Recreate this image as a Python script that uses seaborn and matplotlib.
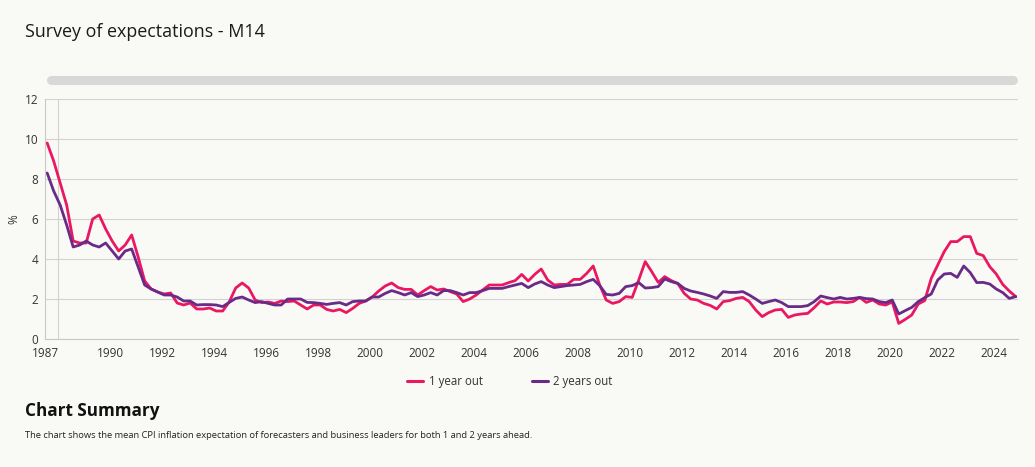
import matplotlib.pyplot as plt
import numpy as np
import pandas as pd
import seaborn as sns
from matplotlib.lines import Line2D

# Survey dates (quarterly, Aug 1987 - Nov 2024)
dates = pd.date_range("1987-08-01", periods=150, freq="3MS")

one_year_out = [
    9.8, 8.9,                  # 1987
    7.8, 6.7, 4.9, 4.8,        # 1988
    4.8, 6.0, 6.2, 5.5,        # 1989
    4.9, 4.4, 4.7, 5.2,        # 1990
    4.1, 2.9, 2.5, 2.35,       # 1991
    2.25, 2.3, 1.8, 1.7,       # 1992
    1.8, 1.5, 1.5, 1.55,       # 1993
    1.4, 1.4, 1.85, 2.55,      # 1994
    2.8, 2.55, 1.95, 1.82,     # 1995
    1.85, 1.78, 1.9, 1.87,     # 1996
    1.9, 1.7, 1.5, 1.7,        # 1997
    1.7, 1.48, 1.4, 1.48,      # 1998
    1.32, 1.53, 1.78, 1.9,     # 1999
    2.1, 2.4, 2.65, 2.8,       # 2000
    2.57, 2.48, 2.48, 2.2,     # 2001
    2.42, 2.62, 2.45, 2.5,     # 2002
    2.37, 2.25, 1.87, 2.0,     # 2003
    2.2, 2.45, 2.7, 2.7,       # 2004
    2.7, 2.82, 2.92, 3.23,     # 2005
    2.9, 3.23, 3.5, 2.95,      # 2006
    2.7, 2.73, 2.73, 2.98,     # 2007
    2.98, 3.28, 3.65, 2.7,     # 2008
    1.95, 1.78, 1.87, 2.12,    # 2009
    2.08, 2.95, 3.87, 3.37,    # 2010
    2.83, 3.12, 2.92, 2.78,    # 2011
    2.28, 2.0, 1.95, 1.78,     # 2012
    1.68, 1.5, 1.87, 1.92,     # 2013
    2.03, 2.08, 1.87, 1.45,    # 2014
    1.12, 1.32, 1.45, 1.48,    # 2015
    1.08, 1.2, 1.25, 1.28,     # 2016
    1.57, 1.9, 1.75, 1.85,     # 2017
    1.85, 1.82, 1.87, 2.08,    # 2018
    1.83, 1.95, 1.75, 1.7,     # 2019
    1.85, 0.78, 0.98, 1.2,     # 2020
    1.75, 1.92, 3.03, 3.7,     # 2021
    4.37, 4.87, 4.87, 5.12,    # 2022
    5.12, 4.28, 4.17, 3.62,    # 2023
    3.25, 2.73, 2.4, 2.12,     # 2024
]

two_years_out = [
    8.3, 7.4,                  # 1987
    6.7, 5.7, 4.6, 4.7,        # 1988
    4.9, 4.7, 4.6, 4.8,        # 1989
    4.4, 4.0, 4.4, 4.5,        # 1990
    3.6, 2.7, 2.5, 2.35,       # 1991
    2.2, 2.2, 2.1, 1.9,        # 1992
    1.9, 1.7, 1.72, 1.72,      # 1993
    1.7, 1.62, 1.83, 2.03,     # 1994
    2.1, 1.95, 1.82, 1.87,     # 1995
    1.78, 1.7, 1.7, 2.0,       # 1996
    2.0, 2.0, 1.83, 1.82,      # 1997
    1.78, 1.73, 1.78, 1.82,    # 1998
    1.7, 1.87, 1.9, 1.9,       # 1999
    2.1, 2.1, 2.28, 2.42,      # 2000
    2.32, 2.2, 2.32, 2.12,     # 2001
    2.2, 2.32, 2.2, 2.42,      # 2002
    2.42, 2.32, 2.2, 2.32,     # 2003
    2.32, 2.42, 2.53, 2.53,    # 2004
    2.53, 2.62, 2.7, 2.78,     # 2005
    2.57, 2.75, 2.87, 2.7,     # 2006
    2.57, 2.62, 2.67, 2.7,     # 2007
    2.73, 2.87, 2.98, 2.67,    # 2008
    2.23, 2.2, 2.28, 2.62,     # 2009
    2.67, 2.82, 2.55, 2.57,    # 2010
    2.62, 3.0, 2.87, 2.78,     # 2011
    2.53, 2.4, 2.33, 2.25,     # 2012
    2.15, 2.03, 2.37, 2.33,    # 2013
    2.33, 2.37, 2.2, 2.0,      # 2014
    1.78, 1.87, 1.95, 1.82,    # 2015
    1.62, 1.62, 1.62, 1.67,    # 2016
    1.87, 2.15, 2.07, 2.0,     # 2017
    2.08, 2.0, 2.03, 2.08,     # 2018
    2.02, 2.0, 1.87, 1.82,     # 2019
    1.95, 1.25, 1.42, 1.58,    # 2020
    1.87, 2.07, 2.25, 2.95,    # 2021
    3.25, 3.28, 3.08, 3.65,    # 2022
    3.32, 2.82, 2.83, 2.75,    # 2023
    2.5, 2.32, 2.03, 2.12,     # 2024
]

series_names = ["1 year out", "2 years out"]
colors = ["#ea1763", "#6a2a87"]

x_labels = ["1987"] + [str(y) for y in range(1990, 2025, 2)]
x_label_pos = [1987.5] + list(range(1990, 2025, 2))

bg = "#f9f9f5"

years = dates.year + (dates.month - 1) / 12
df = pd.DataFrame({
    "year": np.concatenate([years, years]),
    "value": one_year_out + two_years_out,
    "series": [series_names[0]] * len(years) + [series_names[1]] * len(years),
})

sns.set_theme(style="white")
plt.rcParams["font.family"] = ["Open Sans", "DejaVu Sans"]

fig = plt.figure(figsize=(10.35, 4.67), dpi=100, facecolor=bg)
ax = fig.add_axes([45 / 1035, 1 - 339 / 467, 973 / 1035, 240 / 467])
ax.set_facecolor(bg)

sns.lineplot(data=df, x="year", y="value", hue="series",
             palette=dict(zip(series_names, colors)), linewidth=2.0,
             ax=ax, legend=False)

ax.set_xlim(1987.5, 2024.92)
ax.set_ylim(0, 12)
ax.set_yticks(range(0, 13, 2))
ax.set_xticks(x_label_pos)
ax.set_xticklabels(x_labels)
ax.set_xticks(range(1988, 2025, 2), minor=True)
ax.grid(False)
ax.grid(True, axis="y", color="#d2d2d2", linewidth=0.8)
ax.grid(True, axis="x", which="minor", color="#d2d2d2", linewidth=0.8)
ax.tick_params(axis="both", which="both", length=0, labelsize=8.5,
               colors="#333333")
ax.tick_params(axis="y", pad=5)
ax.tick_params(axis="x", pad=5.5)
ax.set_xlabel("")
ax.set_ylabel("")
for side in ["top", "right"]:
    ax.spines[side].set_visible(False)
for side in ["left", "bottom"]:
    ax.spines[side].set_color("#c8c8c8")
    ax.spines[side].set_linewidth(0.8)

fig.text(14 / 1035, 1 - 219 / 467, "%", rotation=90, fontsize=8.5,
         color="#333333", ha="center", va="center")

# title and scrollbar
fig.text(25 / 1035, 1 - 32 / 467, "Survey of expectations - M14",
         fontsize=12.9, color="#1a1a1a", va="center")
fig.add_artist(Line2D([51 / 1035, 1013 / 1035], [1 - 80 / 467] * 2,
                      color="#d8d8d8", linewidth=6.5, solid_capstyle="round"))

handles = [Line2D([], [], color=c, linewidth=2.2) for c in colors]
fig.legend(handles, series_names, loc="center",
           bbox_to_anchor=(510 / 1035, 1 - 382 / 467), ncol=2, frameon=False,
           fontsize=8.3, handlelength=1.35, handletextpad=0.5,
           columnspacing=4.3, labelcolor="#333333")

fig.text(25 / 1035, 1 - 411 / 467, "Chart Summary", fontsize=12.3,
         weight="bold", color="#111111", va="center")
fig.text(25 / 1035, 1 - 436 / 467,
         "The chart shows the mean CPI inflation expectation of forecasters "
         "and business leaders for both 1 and 2 years ahead.",
         fontsize=6.75, color="#222222", va="center")

fig.savefig("out.png", dpi=100, facecolor=bg)
